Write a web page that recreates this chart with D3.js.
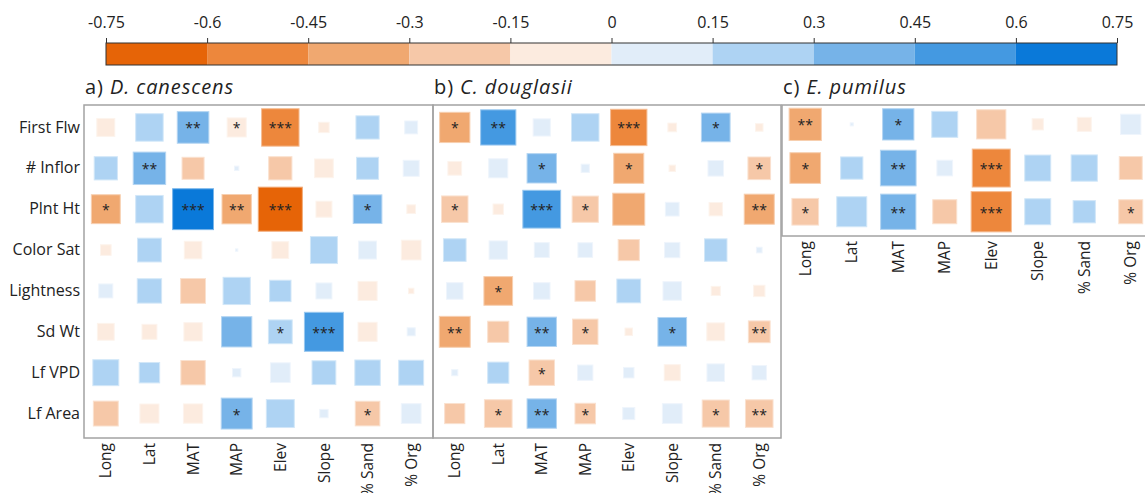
<!DOCTYPE html>
<html>
<head>
<meta charset="utf-8">
<script src="https://cdn.jsdelivr.net/npm/d3@7/dist/d3.min.js"></script>
<style>
  html, body { margin: 0; padding: 0; background: #fff; }
  svg { display: block; }
  text { font-family: "Open Sans", "Noto Sans", sans-serif; fill: #222; }
</style>
</head>
<body>
<svg id="chart" width="1145" height="493"></svg>
<script>
// Environmental predictors (columns) and plant traits (rows)
const predictors = ["Long", "Lat", "MAT", "MAP", "Elev", "Slope", "% Sand", "% Org"];
const traitsAll = ["First Flw", "# Inflor", "Plnt Ht", "Color Sat", "Lightness", "Sd Wt", "Lf VPD", "Lf Area"];
const traitsPumilus = ["First Flw", "# Inflor", "Plnt Ht"];

// Correlation coefficients, one row per trait
const canescensR = [
  [-0.12, 0.28, 0.37, -0.135, -0.52, -0.04, 0.20, 0.062],
  [0.20, 0.39, -0.18, 0.007, -0.20, -0.13, 0.18, 0.095],
  [-0.31, 0.28, 0.62, -0.32, -0.72, -0.095, 0.305, -0.028],
  [-0.042, 0.21, -0.115, 0.002, -0.105, 0.27, 0.12, -0.145],
  [0.073, 0.22, -0.23, 0.275, 0.17, 0.095, -0.135, -0.011],
  [-0.105, -0.083, -0.125, 0.34, 0.21, 0.565, -0.135, 0.024],
  [0.25, 0.155, -0.22, 0.026, 0.145, 0.21, 0.24, 0.23],
  [-0.23, -0.135, -0.138, 0.355, 0.29, 0.026, -0.225, 0.145]
];
const canescensSig = [
  ["", "", "**", "*", "***", "", "", ""],
  ["", "**", "", "", "", "", "", ""],
  ["*", "", "***", "**", "***", "", "*", ""],
  ["", "", "", "", "", "", "", ""],
  ["", "", "", "", "", "", "", ""],
  ["", "", "", "", "*", "***", "", ""],
  ["", "", "", "", "", "", "", ""],
  ["", "", "", "*", "", "", "*", ""]
];

const douglasiiR = [
  [-0.34, 0.46, 0.11, 0.28, -0.49, -0.028, 0.305, -0.021],
  [-0.07, 0.135, 0.32, 0.025, -0.335, -0.015, 0.09, -0.19],
  [-0.26, -0.04, 0.53, -0.255, -0.38, 0.07, -0.066, -0.335],
  [0.19, 0.125, 0.083, 0.08, -0.166, 0.087, 0.187, 0.012],
  [0.102, -0.305, 0.102, -0.157, 0.21, 0.128, -0.031, -0.048],
  [-0.355, -0.166, 0.32, -0.24, -0.021, 0.305, -0.119, -0.176],
  [0.014, 0.166, -0.24, 0.087, 0.041, -0.096, 0.115, 0.077],
  [-0.151, -0.284, 0.32, -0.157, 0.054, 0.145, -0.272, -0.282]
];
const douglasiiSig = [
  ["*", "**", "", "", "***", "", "*", ""],
  ["", "", "*", "", "*", "", "", "*"],
  ["*", "", "***", "*", "", "", "", "**"],
  ["", "", "", "", "", "", "", ""],
  ["", "*", "", "", "", "", "", ""],
  ["**", "", "**", "*", "", "*", "", "**"],
  ["", "", "*", "", "", "", "", ""],
  ["", "*", "**", "*", "", "", "*", "**"]
];

const pumilusR = [
  [-0.338, 0.003, 0.318, 0.219, -0.278, -0.041, -0.064, 0.134],
  [-0.305, 0.161, 0.413, 0.08, -0.468, 0.219, 0.224, -0.171],
  [-0.231, 0.292, 0.404, -0.187, -0.526, 0.219, 0.161, -0.187]
];
const pumilusSig = [
  ["**", "", "*", "", "", "", "", ""],
  ["*", "", "**", "", "***", "", "", ""],
  ["*", "", "**", "", "***", "", "", "*"]
];

// Diverging colour classes
const legendTicks = [-0.75, -0.6, -0.45, -0.3, -0.15, 0, 0.15, 0.3, 0.45, 0.6, 0.75];
const binColors = ["#e66407", "#ed873c", "#f0a870", "#f6c8a8", "#fcebdf",
                   "#e1edf9", "#aed3f3", "#76b3e8", "#4499e1", "#0a79d9"];

const svg = d3.select("#chart");

const color = d3.scaleThreshold()
  .domain(legendTicks.slice(1, -1))
  .range(binColors);

// ---- colour bar ----
const lx = d3.scaleLinear().domain([-0.75, 0.75]).range([106, 1117]);
const barTop = 43, barH = 22;
const legend = svg.append("g");
legend.selectAll("rect.bin")
  .data(d3.pairs(legendTicks))
  .join("rect")
  .attr("class", "bin")
  .attr("x", d => lx(d[0]))
  .attr("y", barTop)
  .attr("width", d => lx(d[1]) - lx(d[0]))
  .attr("height", barH)
  .attr("fill", (d, i) => binColors[i]);
legend.append("rect")
  .attr("x", lx(-0.75)).attr("y", barTop)
  .attr("width", lx(0.75) - lx(-0.75)).attr("height", barH)
  .attr("fill", "none").attr("stroke", "#333").attr("stroke-width", 1);
const legendAxis = legend.append("g")
  .attr("transform", `translate(0,${barTop})`)
  .call(d3.axisTop(lx).tickValues(legendTicks).tickSize(5).tickPadding(10).tickFormat(d => String(d)));
legendAxis.select(".domain").remove();
legendAxis.selectAll("line").attr("stroke", "#333");
legendAxis.selectAll("text").attr("font-size", 16).attr("fill", "#222")
  .style("font-family", "'Open Sans', sans-serif");

// ---- heat-map panels ----
const panels = [
  { label: "a) ", species: "D. canescens", rows: traitsAll, r: canescensR, sig: canescensSig,
    x0: 84, x1: 433, y0: 107, y1: 434, boxTop: 105, boxBottom: 438, boxRight: 433, rowAxis: true },
  { label: "b) ", species: "C. douglasii", rows: traitsAll, r: douglasiiR, sig: douglasiiSig,
    x0: 433, x1: 781, y0: 107, y1: 434, boxTop: 105, boxBottom: 438, boxRight: 781, rowAxis: false },
  { label: "c) ", species: "E. pumilus", rows: traitsPumilus, r: pumilusR, sig: pumilusSig,
    x0: 782, x1: 1154, y0: 102.5, y1: 233.6, boxTop: 105, boxBottom: 236, boxRight: 1160, rowAxis: false }
];

panels.forEach(p => {
  const g = svg.append("g");
  const x = d3.scaleBand().domain(predictors).range([p.x0, p.x1]);
  const y = d3.scaleBand().domain(p.rows).range([p.y0, p.y1]);
  const side = d3.scaleSqrt().domain([0, 0.75]).range([0, y.bandwidth() * 1.1]);

  // title
  const t = g.append("text").attr("x", p.x0 + 1).attr("y", 94)
    .attr("font-size", 20).attr("letter-spacing", 0.9);
  t.append("tspan").text(p.label);
  t.append("tspan").attr("font-style", "italic").text(p.species);

  // frame
  g.append("rect")
    .attr("x", p.x0).attr("y", p.boxTop)
    .attr("width", p.boxRight - p.x0).attr("height", p.boxBottom - p.boxTop)
    .attr("fill", "none").attr("stroke", "#a3a3a3").attr("stroke-width", 1.5);

  const cells = [];
  p.rows.forEach((trait, i) => predictors.forEach((pred, j) => {
    cells.push({ trait, pred, r: p.r[i][j], sig: p.sig[i][j] });
  }));

  g.selectAll("rect.cell")
    .data(cells)
    .join("rect")
    .attr("class", "cell")
    .attr("x", d => x(d.pred) + x.bandwidth() / 2 - side(Math.abs(d.r)) / 2)
    .attr("y", d => y(d.trait) + y.bandwidth() / 2 - side(Math.abs(d.r)) / 2)
    .attr("width", d => side(Math.abs(d.r)))
    .attr("height", d => side(Math.abs(d.r)))
    .attr("fill", d => color(d.r))
    .attr("stroke", d => d3.interpolateRgb(color(d.r), "#ffffff")(0.45))
    .attr("stroke-width", 1);

  g.selectAll("text.sig")
    .data(cells.filter(d => d.sig))
    .join("text")
    .attr("class", "sig")
    .attr("x", d => x(d.pred) + x.bandwidth() / 2)
    .attr("y", d => y(d.trait) + y.bandwidth() / 2 + 6)
    .attr("text-anchor", "middle")
    .attr("font-size", 14)
    .attr("fill", "#111")
    .text(d => d.sig);

  // column labels
  const xa = g.append("g")
    .attr("transform", `translate(0,${p.boxBottom})`)
    .call(d3.axisBottom(x).tickSize(0));
  xa.select(".domain").remove();
  xa.selectAll("text")
    .attr("transform", "rotate(-90)")
    .attr("text-anchor", "end")
    .attr("x", -5).attr("y", 0).attr("dy", "0.36em")
    .attr("font-size", 15.5).attr("fill", "#222")
    .style("font-family", "'Open Sans', sans-serif");

  // row labels
  if (p.rowAxis) {
    const ya = g.append("g")
      .attr("transform", `translate(${p.x0},0)`)
      .call(d3.axisLeft(y).tickSize(0).tickPadding(4));
    ya.select(".domain").remove();
    ya.selectAll("text").attr("font-size", 16).attr("fill", "#222")
      .style("font-family", "'Open Sans', sans-serif");
  }
});
</script>
</body>
</html>
